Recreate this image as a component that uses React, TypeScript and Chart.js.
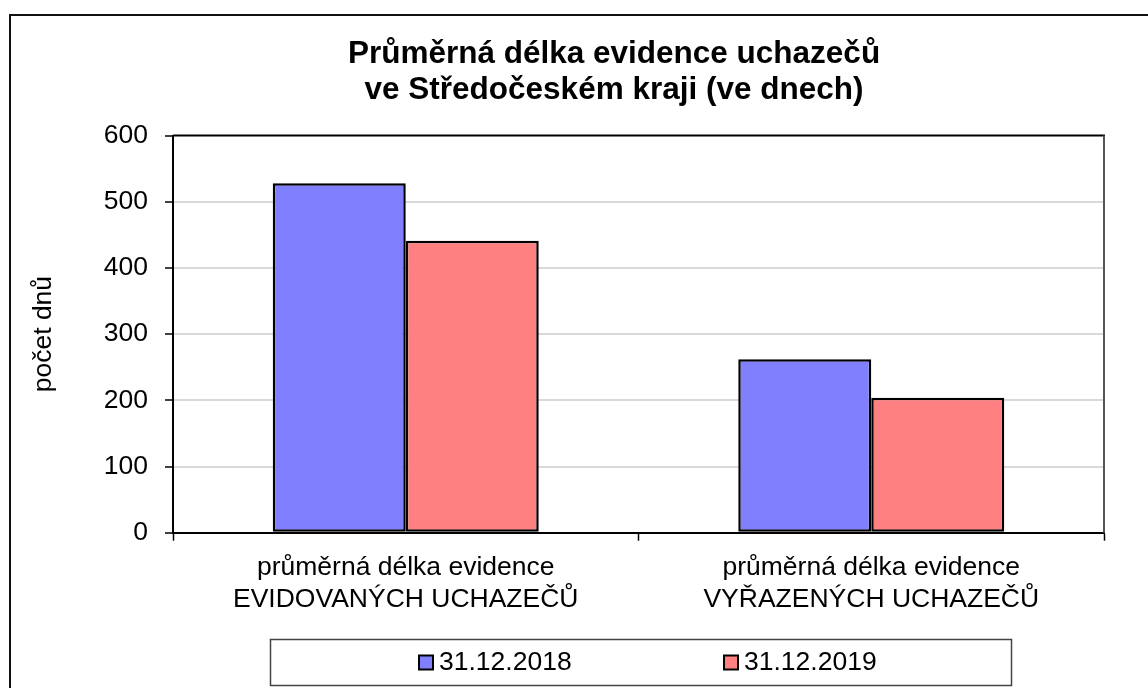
import React, { useEffect, useRef } from "react";
import { Chart, registerables } from "chart.js";

Chart.register(...registerables);

const categories: string[][] = [
  ["průměrná délka evidence", "EVIDOVANÝCH UCHAZEČŮ"],
  ["průměrná délka evidence", "VYŘAZENÝCH UCHAZEČŮ"],
];
const seriesLabels = ["31.12.2018", "31.12.2019"];
const values2018 = [528, 262];
const values2019 = [441, 204];
const yTicks = [0, 100, 200, 300, 400, 500, 600];
const titleLines = ["Průměrná délka evidence uchazečů", "ve Středočeském kraji (ve dnech)"];
const yAxisTitle = "počet dnů";

const FONT = '"Liberation Sans", Arial, sans-serif';

const framePlugin = {
  id: "frame",
  afterDraw(chart: any) {
    const { ctx, chartArea } = chart;
    const { left, top, right, bottom } = chartArea;
    ctx.save();
    // outer chart border
    ctx.strokeStyle = "#111";
    ctx.lineWidth = 2;
    ctx.strokeRect(10, 15, 2000, 2000);
    // plot area top & right
    ctx.beginPath();
    ctx.strokeStyle = "#000";
    ctx.lineWidth = 2;
    ctx.moveTo(left, top);
    ctx.lineTo(right + 1, top);
    ctx.stroke();
    ctx.beginPath();
    ctx.strokeStyle = "#555";
    ctx.lineWidth = 2;
    ctx.moveTo(right, top);
    ctx.lineTo(right, bottom);
    ctx.stroke();
    // legend
    const fl = 270, ft = 639, fw = 741, fh = 46;
    ctx.strokeStyle = "#444";
    ctx.lineWidth = 1.5;
    ctx.strokeRect(fl + 0.5, ft + 0.5, fw, fh);
    const cy = ft + fh / 2 + 0.5;
    chart.data.datasets.forEach((ds: any, i: number) => {
      const bx = fl + 149 + i * 305;
      const sz = 14;
      ctx.fillStyle = ds.backgroundColor;
      ctx.fillRect(bx, cy - sz / 2, sz, sz);
      ctx.strokeStyle = "#000";
      ctx.lineWidth = 2;
      ctx.strokeRect(bx, cy - sz / 2, sz, sz);
      ctx.fillStyle = "#000";
      ctx.font = `26.5px ${FONT}`;
      ctx.textBaseline = "middle";
      ctx.textAlign = "left";
      ctx.fillText(ds.label, bx + 20, cy);
    });
    ctx.restore();
  },
};

export default function App() {
  const ref = useRef<HTMLCanvasElement | null>(null);
  useEffect(() => {
    if (!ref.current) return;
    const chart = new Chart(ref.current, {
      type: "bar",
      data: {
        labels: categories,
        datasets: [
          {
            label: seriesLabels[0],
            data: values2018,
            backgroundColor: "#8080FF",
            borderColor: "#000",
            borderWidth: 2.5,
            borderSkipped: false,
            categoryPercentage: 0.5714,
            barPercentage: 1,
          },
          {
            label: seriesLabels[1],
            data: values2019,
            backgroundColor: "#FF8080",
            borderColor: "#000",
            borderWidth: 2.5,
            borderSkipped: false,
            categoryPercentage: 0.5714,
            barPercentage: 1,
          },
        ],
      },
      options: {
        responsive: false,
        animation: false,
        layout: { padding: { left: 80, right: 0, top: 0, bottom: 75.3 } },
        plugins: {
          legend: { display: false },
          tooltip: { enabled: false },
          title: {
            display: true,
            text: titleLines,
            color: "#000",
            font: { family: FONT, size: 31.5, weight: "bold", lineHeight: 1.143 },
            padding: { top: 36.5, bottom: 27 },
          },
        },
        scales: {
          x: {
            afterFit: (s: any) => {
              s.height = 80;
            },
            grid: {
              display: true,
              offset: true,
              drawOnChartArea: false,
              drawTicks: true,
              tickLength: 8,
              tickColor: "#000",
              tickWidth: 1.5,
              color: "#000",
            },
            border: { display: true, color: "#000", width: 2 },
            ticks: {
              color: "#000",
              font: { family: FONT, size: 26.5, lineHeight: 1.2 },
              padding: 11.2,
              maxRotation: 0,
              autoSkip: false,
            },
          },
          y: {
            min: yTicks[0],
            max: yTicks[yTicks.length - 1],
            afterFit: (s: any) => {
              s.width = 93;
            },
            afterBuildTicks: (s: any) => {
              s.ticks = yTicks.map((v) => ({ value: v }));
            },
            grid: {
              color: (c: any) =>
                c.tick && (c.tick.value === 0 || c.tick.value === 600) ? "rgba(0,0,0,0)" : "#d9d9d9",
              lineWidth: 2,
              tickLength: 8,
              tickColor: "#000",
              tickWidth: 1.5,
            },
            border: { display: true, color: "#000", width: 2 },
            ticks: {
              stepSize: 100,
              color: "#000",
              font: { family: FONT, size: 26.5 },
              padding: 17,
            },
            title: {
              display: true,
              text: yAxisTitle,
              color: "#000",
              align: "center",
              font: { family: FONT, size: 26.5, lineHeight: 1.2 },
              padding: { top: -52.4, bottom: 0 },
            },
          },
          yRight: {
            type: "linear",
            position: "right",
            display: true,
            afterFit: (s: any) => {
              s.width = 44;
            },
            grid: { display: false },
            border: { display: false },
            ticks: { display: false },
            title: { display: false },
          },
        },
      },
      plugins: [framePlugin],
    } as any);
    return () => chart.destroy();
  }, []);
  return (
    <div style={{ position: "fixed", left: 0, top: 0, width: 1148, height: 688, background: "#fff" }}>
      <canvas ref={ref} width={1148} height={688} style={{ display: "block" }} />
    </div>
  );
}
